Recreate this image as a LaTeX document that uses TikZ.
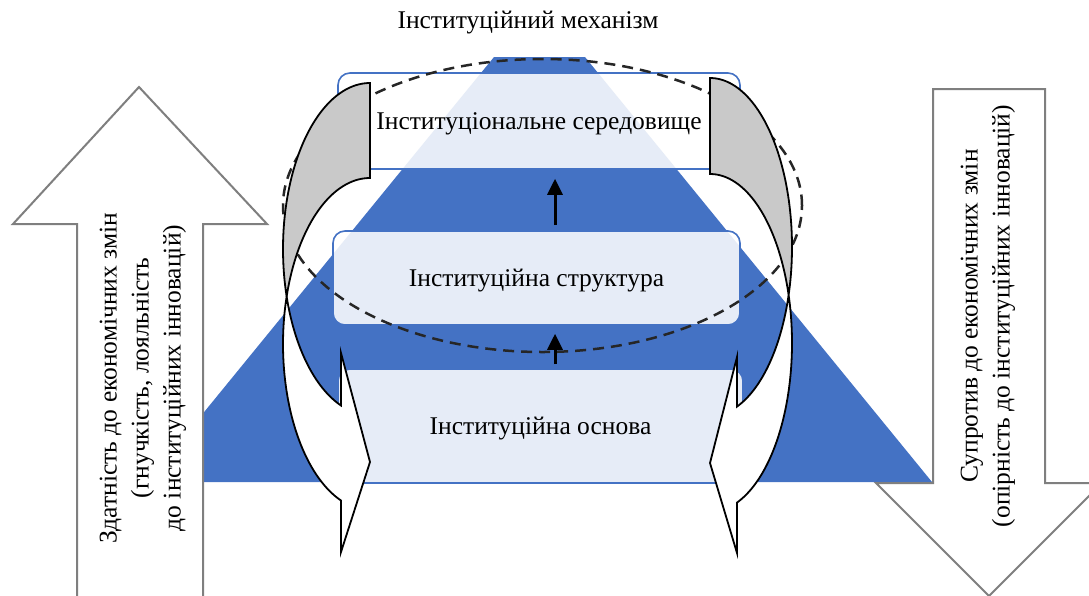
\documentclass[tikz,border=0pt]{standalone}
\usepackage{fontspec}
\setmainfont{Liberation Serif}
\usetikzlibrary{arrows.meta,calc}
\definecolor{pblue}{HTML}{4472C4}
\definecolor{agray}{HTML}{7F7F7F}
\definecolor{cgray}{HTML}{C9C9C9}
\definecolor{dgray}{HTML}{262626}
\tikzset{
  txt/.style={font=\fontsize{25.5pt}{32pt}\selectfont, inner sep=0pt},
  box/.style={txt, draw=pblue, line width=1.6pt, fill=white, fill opacity=0.87, text opacity=1, rounded corners=12pt, text depth=0pt},
  bigarrow/.style={draw=agray, fill=white, line width=2pt},
  curvgray/.style={draw=black, fill=cgray, line width=1.8pt},
  curvwhite/.style={draw=black, fill=white, line width=1.8pt},
  uparrow/.style={draw=black, line width=3pt, -{Triangle[length=16pt,width=15pt]}},
  dashell/.style={draw=dgray, line width=2.5pt, dash pattern=on 11pt off 7pt},
}
\begin{document}
\begin{tikzpicture}[x=1pt,y=-1pt]
\useasboundingbox (0,0) rectangle (1089,595);
\clip (0,0) rectangle (1089,595);
% pyramid
\fill[pblue] (147,482) -- (494,57) -- (585,57) -- (932,482) -- cycle;
% boxes
\node[box, minimum width=402pt, minimum height=96pt] (b1) at (539,121) {Інституціональне середовище};
\node[box, minimum width=407pt, minimum height=94pt] (b2) at (536.5,278) {Інституційна структура};
\node[box, minimum width=405pt, minimum height=114pt] (b3) at (540.5,426) {Інституційна основа};
% dashed ellipse
\draw[dashell] (542.5,205.5) ellipse [x radius=259.5pt, y radius=146.5pt];
% small arrows
\coordinate (ax) at (555,0);
\draw[uparrow] ($(b2.north -| ax)+(0,-5)$) -- ($(b1.south -| ax)+(0,9)$);
\draw[uparrow] ($(b3.north -| ax)+(0,-4)$) -- ($(b2.south -| ax)+(0,8)$);
% left curved arrow
\draw[curvgray] plot[domain=270:163.37,samples=60] ({370+87*cos(\x)},{249+166*sin(\x)})
  -- plot[domain=196.63:270,samples=60] ({370+87*cos(\x)},{344+166*sin(\x)}) -- cycle;
\draw[curvwhite] plot[domain=163.37:109.47,samples=60] ({370+87*cos(\x)},{249+166*sin(\x)})
  -- (341,353) -- (370,462) -- (341,552)
  -- plot[domain=109.47:196.63,samples=60] ({370+87*cos(\x)},{344+166*sin(\x)}) -- cycle;
% right curved arrow
\draw[curvgray] plot[domain=-90:16.5,samples=60] ({710+82*cos(\x)},{247+169*sin(\x)})
  -- plot[domain=-16.5:-90,samples=60] ({710+82*cos(\x)},{343+169*sin(\x)}) -- cycle;
\draw[curvwhite] plot[domain=16.5:70.77,samples=60] ({710+82*cos(\x)},{247+169*sin(\x)})
  -- (737,357) -- (710,463) -- (737,553)
  -- plot[domain=70.77:-16.5,samples=60] ({710+82*cos(\x)},{343+169*sin(\x)}) -- cycle;
% big arrows
\draw[bigarrow] (139,87) -- (267,224) -- (203,224) -- (203,605) -- (77,605) -- (77,224) -- (13,224) -- cycle;
\draw[bigarrow] (933,89) -- (1045,89) -- (1045,483) -- (1102,483) -- (989,596) -- (876,483) -- (933,483) -- cycle;
% texts
\node[txt] (title) at (528,23) {Інституційний механізм};
\node[txt, rotate=90, align=center] (lt) at (143,378) {Здатність до економічних змін\\(гнучкість, лояльність\\до інституційних інновацій)};
\node[txt, rotate=90, align=center] (rt) at (988,316) {Супротив до економічних змін\\(опірність до інституційних інновацій)};
\end{tikzpicture}
\end{document}
